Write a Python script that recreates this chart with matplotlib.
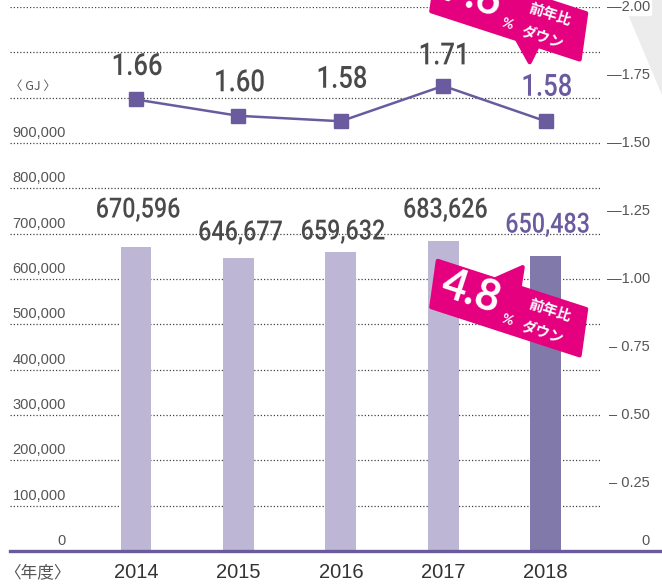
import matplotlib
matplotlib.use("Agg")
import matplotlib.pyplot as plt
import numpy as np
from matplotlib import patheffects
from matplotlib.patches import Polygon
from matplotlib.transforms import Affine2D, ScaledTranslation, blended_transform_factory

years = ["2014", "2015", "2016", "2017", "2018"]
energy_gj = [670596, 646677, 659632, 683626, 650483]
intensity = [1.66, 1.60, 1.58, 1.71, 1.58]
left_ticks = [0, 100000, 200000, 300000, 400000, 500000, 600000, 700000, 800000, 900000]
right_ticks = [0, 0.25, 0.50, 0.75, 1.00, 1.25, 1.50, 1.75, 2.00]
drop_energy = "4.8"
drop_intensity = "7.6"

# label offsets in pixels above the bar top / marker
bar_label_dy = [37, 25, 20, 31, 31]
line_label_dy = [33, 33, 42, 30, 34]

LIGHT = "#bdb7d5"
DARK = "#8179a9"
PURPLE = "#6a5b9f"
PINK = "#e4007f"
GRAY = "#4a4a4a"
TICK = "#555555"
NUM_FONT = ["Roboto", "DejaVu Sans"]
JP_FONT = ["Noto Sans CJK JP", "DejaVu Sans"]
W, H = 662, 585


class Narrow(patheffects.AbstractPathEffect):
    """Squeeze glyphs horizontally around the text centre (condensed look)."""

    def __init__(self, sx=0.84):
        super().__init__()
        self.sx = sx

    def draw_path(self, renderer, gc, tpath, affine, rgbFace=None):
        ext = tpath.get_extents()
        cx = (ext.x0 + ext.x1) / 2
        squeeze = Affine2D().translate(-cx, 0).scale(self.sx, 1).translate(cx, 0)
        renderer.draw_path(gc, tpath, squeeze + affine, rgbFace)


fig = plt.figure(figsize=(W / 100, H / 100), dpi=100)
ax = fig.add_axes([10 / W, (H - 551) / H, 590 / W, 544 / H])
ax2 = ax.twinx()
x = np.arange(len(years))

ax.set_xlim(-1.23, 4.53)
ax.set_ylim(0, 1200000)
ax2.set_ylim(0, 2.0)
for a in (ax, ax2):
    a.set_axis_off()

# dotted grid
for v in np.arange(100000, 1200001, 100000):
    ax.axhline(v, color="#444444", lw=0.9, ls=(0, (1, 1.6)), zorder=0)
ax.axhline(0, xmin=0, xmax=(W - 10) / 590, color=PURPLE, lw=2.4, clip_on=False, zorder=5)

colors = [LIGHT] * (len(years) - 1) + [DARK]
ax.bar(x, energy_gj, width=0.30, color=colors, zorder=2)

narrow = [Narrow(0.84)]
for i, v in enumerate(energy_gj):
    last = i == len(years) - 1
    ax.annotate(f"{v:,}", (x[i], v), xytext=(2, bar_label_dy[i]), textcoords="offset pixels",
                ha="center", va="center", fontsize=20, family=NUM_FONT, weight="medium",
                color=PURPLE if last else GRAY, zorder=6, path_effects=narrow)

ax2.plot(x, intensity, color=PURPLE, lw=1.8, marker="s", ms=10, zorder=4)
for i, v in enumerate(intensity):
    last = i == len(years) - 1
    ax2.annotate(f"{v:.2f}", (x[i], v), xytext=(1, line_label_dy[i]), textcoords="offset pixels",
                 ha="center", va="center", fontsize=22, family=NUM_FONT, weight="medium",
                 color=PURPLE if last else GRAY, zorder=6, path_effects=narrow)

# left axis labels sit above their grid lines
tl = blended_transform_factory(ax.transAxes, ax.transData)
for v in left_ticks:
    ax.annotate(f"{v:,}", (56 / 590, v), xycoords=tl, xytext=(0, 10), textcoords="offset pixels",
                ha="right", va="center", fontsize=10.5, color=TICK, family="Liberation Sans")
ax.annotate("〈 GJ 〉", (0, 1000000), xycoords=tl, xytext=(0, 11), textcoords="offset pixels",
            ha="left", va="center", fontsize=9, color=TICK, family=JP_FONT)

# right axis labels
tr = blended_transform_factory(fig.transFigure, ax2.transData)
for v in right_ticks:
    if v == 0:
        ax2.annotate("0", (650 / W, v), xycoords=tr, xytext=(0, 10), textcoords="offset pixels",
                     ha="right", va="center", fontsize=10.5, color=TICK, family="Liberation Sans")
        continue
    dash = "—" if v >= 1 else "– "
    ax2.annotate(f"{dash}{v:.2f}", (650 / W, v), xycoords=tr, ha="right", va="center",
                 fontsize=10.5, color=TICK, family="Liberation Sans", zorder=3,
                 bbox=dict(boxstyle="round,pad=0.15", fc="white", ec="none") if v == 2.0 else None)

# year labels
for i, y in enumerate(years):
    ax.annotate(y, (x[i], 0), xytext=(0, -22), textcoords="offset pixels", ha="center",
                va="center", fontsize=14.5, color="#333333", family="Liberation Sans")
ax.annotate("〈年度〉", (-6 / 590, 0), xycoords=tl, xytext=(0, -22), textcoords="offset pixels",
            ha="left", va="center", fontsize=12, color=TICK, family=JP_FONT)

# grey backdrop in the top right corner
fig.add_artist(Polygon([[622 / W, 1], [1, 1], [1, 1 - 95 / H]], closed=True,
                       transform=fig.transFigure, fc="#ececec", ec="none", zorder=-1))


def callout(axis, xd, yd, center, tip, tail, side, pct):
    """Tilted magenta speech bubble; offsets are pixels from (xd, yd)."""
    w, h = 156, 46
    skew = Affine2D().skew_deg(-10, 0).rotate_deg(-18)
    ey = h / 2 if side == "top" else -h / 2
    if side == "top":
        local = [(-w / 2, -h / 2), (w / 2, -h / 2), (w / 2, h / 2), (tail[1], ey), (0, 0), (tail[0], ey), (-w / 2, h / 2)]
        tip_i = 4
    else:
        local = [(-w / 2, -h / 2), (tail[0], ey), (0, 0), (tail[1], ey), (w / 2, -h / 2), (w / 2, h / 2), (-w / 2, h / 2)]
        tip_i = 2
    pts = skew.transform(np.array(local, float)) + np.array(center)
    pts[tip_i] = tip
    anchor = ScaledTranslation(xd, yd, axis.transData)
    axis.add_patch(Polygon(pts, closed=True, fc=PINK, ec=PINK, lw=3, joinstyle="round",
                           transform=Affine2D() + anchor, clip_on=False, zorder=8))
    cx, cy = center
    texts = [(pct, (-37, 16), 31, ["Lato", "DejaVu Sans"]),
             ("%", (-2, -12), 10, ["Lato", "DejaVu Sans"]),
             ("前年比", (41, -2), 10.5, JP_FONT),
             ("ダウン", (34, -25), 10.5, JP_FONT)]
    for s, (dx, dy), fs, fam in texts:
        axis.annotate(s, (xd, yd), xytext=(cx + dx, cy + dy), textcoords="offset pixels",
                      ha="center", va="center", rotation=-18, rotation_mode="anchor",
                      fontsize=fs, family=fam, weight="bold", color="white",
                      annotation_clip=False, zorder=9)


callout(ax, x[-1], energy_gj[-1], (-37, -52), (-23, -11), (-18, 8), "top", drop_energy)
callout(ax2, x[-1], intensity[-1], (-37, 109), (-16, 59), (12, 34), "bottom", drop_intensity)

fig.savefig("out.png", dpi=100)
